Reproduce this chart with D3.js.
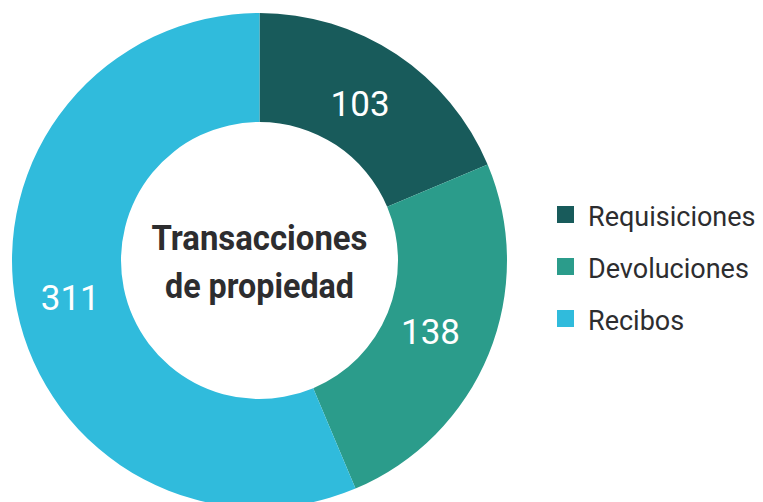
<!DOCTYPE html>
<html>
<head>
<meta charset="UTF-8">
<script src="https://d3js.org/d3.v7.min.js"></script>
<style>
	body { margin: 0; background: #fff; }
	svg { display: block; }
</style>
</head>
<body>
<div id="chart"></div>
<script>
	let categories = ["Requisiciones", "Devoluciones", "Recibos"];
	let values = [103, 138, 311];
	let colors = ["#185b5b", "#2b9c8b", "#30bbdc"];
	let titleLines = ["Transacciones", "de propiedad"];

	let width = 763;
	let height = 502;
	let cx = 259.5, cy = 260.5;
	let outerR = 247.5, innerR = 138.5;

	let svg = d3.select("#chart").append("svg")
		.attr("width", width)
		.attr("height", height);

	let pie = d3.pie().sort(null).value(d => d);
	let arcs = pie(values);

	let arc = d3.arc().innerRadius(innerR).outerRadius(outerR);
	let labelArc = d3.arc().innerRadius(189).outerRadius(189);

	let g = svg.append("g").attr("transform", `translate(${cx},${cy})`);

	// slices
	g.selectAll("path")
		.data(arcs)
		.join("path")
		.attr("d", arc)
		.attr("fill", (d, i) => colors[i]);

	// value labels
	g.selectAll(".val")
		.data(arcs)
		.join("text")
		.attr("class", "val")
		.attr("x", d => labelArc.centroid(d)[0] - 4)
		.attr("y", d => labelArc.centroid(d)[1])
		.attr("text-anchor", "middle")
		.attr("dy", "0.36em")
		.attr("fill", "#fff")
		.style("font-family", "Roboto, sans-serif")
		.style("font-size", "35px")
		.text(d => d.data);

	// center title, squeezed to the condensed width of the original
	let titleWidths = [216, 189];
	g.selectAll(".title")
		.data(titleLines)
		.join("text")
		.attr("class", "title")
		.attr("x", 0)
		.attr("y", (d, i) => -11 + i * 48)
		.attr("text-anchor", "middle")
		.attr("textLength", (d, i) => titleWidths[i])
		.attr("lengthAdjust", "spacingAndGlyphs")
		.attr("fill", "#2d2d2f")
		.style("font-family", "Roboto, sans-serif")
		.style("font-weight", "bold")
		.style("font-size", "35px")
		.text(d => d);

	// legend
	let legend = svg.append("g").attr("transform", "translate(557,206)");
	let rows = legend.selectAll("g")
		.data(categories)
		.join("g")
		.attr("transform", (d, i) => `translate(0,${i * 52})`);

	rows.append("rect")
		.attr("width", 17)
		.attr("height", 17)
		.attr("fill", (d, i) => colors[i]);

	rows.append("text")
		.attr("x", 31)
		.attr("y", 20)
		.attr("fill", "#2d2d2f")
		.style("font-family", "Roboto, sans-serif")
		.style("font-size", "27px")
		.text(d => d);
</script>
</body>
</html>
